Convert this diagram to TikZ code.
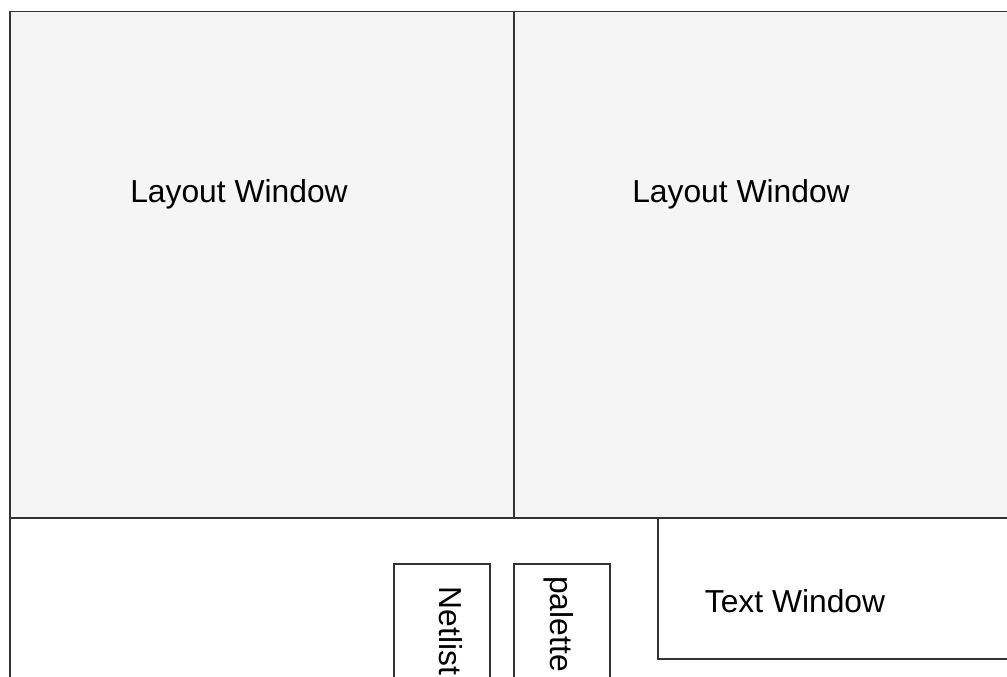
\documentclass[tikz,border=0pt]{standalone}
\usepackage{fontspec}
\setmainfont{Liberation Sans}
\definecolor{winline}{RGB}{51,51,51}
\definecolor{winfill}{RGB}{245,245,245}
\tikzset{
  winbox/.style={draw=winline, line width=1.5pt, anchor=north west, inner sep=0pt},
  wintext/.style={inner sep=0.75pt, font=\fontsize{31.8}{36}\selectfont}
}
\begin{document}
\begin{tikzpicture}[x=1pt, y=-1pt]
\useasboundingbox (0,0) rectangle (1007,677);
\clip (0,0) rectangle (1007,677);

\node (bottom) [winbox, fill=white, minimum width=1010pt, minimum height=175pt] at (9,517) {};
\node (layleft) [winbox, fill=winfill, minimum width=504pt, minimum height=506pt] at (9,11) {};
\node (layright) [winbox, fill=winfill, minimum width=505pt, minimum height=506pt] at (513,11) {};
\node (txtwin) [winbox, fill=white, minimum width=360pt, minimum height=141pt] at (657,517) {};
\node (netbox) [winbox, fill=white, minimum width=96pt, minimum height=125pt] at (393,563) {};
\node (palbox) [winbox, fill=white, minimum width=96pt, minimum height=125pt] at (513,563) {};

\node (laylefttxt) [wintext] at (239,194) {Layout Window};
\node (layrighttxt) [wintext] at (741,194) {Layout Window};
\node (txtwintxt) [wintext] at (795,601) {Text Window};
\node (nettxt) [wintext, rotate=-90] at (451,631) {Netlist};
\node (paltxt) [wintext, rotate=-90] at (559,624) {palette};
\end{tikzpicture}
\end{document}
